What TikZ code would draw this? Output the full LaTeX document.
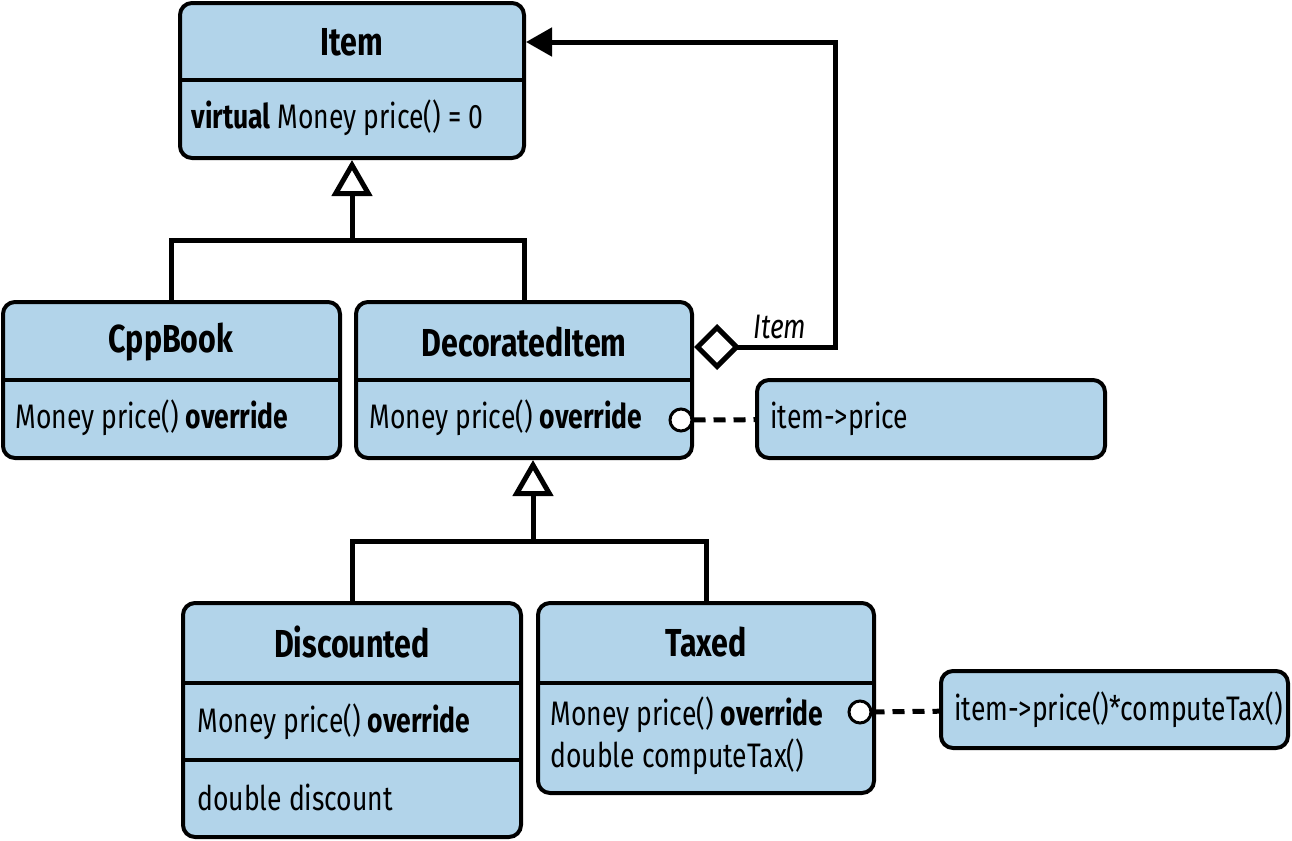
\documentclass[tikz,border=0pt]{standalone}
\usepackage{fontspec}
\setmainfont{Fira Sans}[FakeStretch=0.78]
\usetikzlibrary{arrows.meta,fit}
\definecolor{umlblue}{RGB}{178,212,234}
\tikzset{classbox/.style={draw, fill=umlblue, line width=2pt, rounded corners=6pt, inner sep=0pt},
  title/.style={font=\fontsize{19.5}{24}\selectfont\bfseries, inner sep=0pt},
  member/.style={font=\fontsize{17}{20}\selectfont, anchor=west, inner sep=0pt},
  role/.style={font=\fontsize{17}{20}\selectfont\itshape, inner sep=0pt},
  port/.style={circle, draw, fill=white, line width=1.5pt, minimum size=11pt, inner sep=0pt},
  link/.style={line width=2.5pt},
  inherit/.style={link, -{Triangle[open, length=18pt, width=20pt]}},
  dashlink/.style={link, dash pattern=on 6pt off 4pt}}

\begin{document}
\begin{tikzpicture}[x=0.5pt, y=-0.5pt]
      \useasboundingbox (0,0) rectangle (1292,841);
      \node [classbox, fit={(180,3) (524,158)}] (item) {};
      \node [classbox, fit={(3,302) (340,458)}] (cpp) {};
      \node [classbox, fit={(356,302) (692,458)}] (dec) {};
      \node [classbox, fit={(757,380) (1105,458)}] (note1) {};
      \node [classbox, fit={(183,603) (521,837)}] (disc) {};
      \node [classbox, fit={(538,603) (874,793)}] (tax) {};
      \node [classbox, fit={(941,671) (1288,748)}] (note2) {};
      \draw [line width=2pt] (180,80) -- (524,80) (3,380) -- (340,380) (356,380) -- (692,380);
      \draw [line width=2pt] (183,683) -- (521,683) (183,760) -- (521,760) (538,683) -- (874,683);
      \node [title] (itemT) at (352,42) {Item};
      \node [title] (cppT) at (171,342) {CppBook};
      \node [title] (decT) at (524,342) {DecoratedItem};
      \node [title] (discT) at (352,642) {Discounted};
      \node [title] (taxT) at (706,642) {Taxed};
      \node [member] (itemM) at (191,118) {\textbf{virtual} Money price() = 0};
      \node [member] (cppM) at (15,418) {Money price() \textbf{override}};
      \node [member] (decM) at (369,418) {Money price() \textbf{override}};
      \node [member] (discM) at (197,722) {Money price() \textbf{override}};
      \node [member] (discF) at (197,797) {double discount};
      \node [member] (taxM) at (550,715) {Money price() \textbf{override}};
      \node [member] (taxN) at (550,757) {double computeTax()};
      \node [member] (note1T) at (770,419) {item->price};
      \node [member] (note2T) at (954,710) {item->price()*computeTax()};
      \coordinate (j1) at (352,240);
      \draw [link] (cpp.north) |- (j1) -| (dec.north);
      \draw [inherit] (j1) -- (item.south);
      \coordinate (j2) at (533,541);
      \draw [link] (disc.north) |- (j2) -| (tax.north);
      \draw [inherit] (j2) -- (j2 |- dec.south);
      \coordinate (agg) at (835,347);
      \draw [link, {Diamond[open, length=23pt, width=23pt]}-{Triangle[length=13pt, width=14pt]}] (agg -| dec.east) -- (agg) |- (item.east |- itemT);
      \node [role] (aggrole) at (780,327) {Item};
      \node [port] (decport) at (681,420) {};
      \draw [dashlink] (decport) -- (note1);
      \node [port] (taxport) at (860,712) {};
      \draw [dashlink] (taxport) -- (note2);
    \end{tikzpicture}
\end{document}
